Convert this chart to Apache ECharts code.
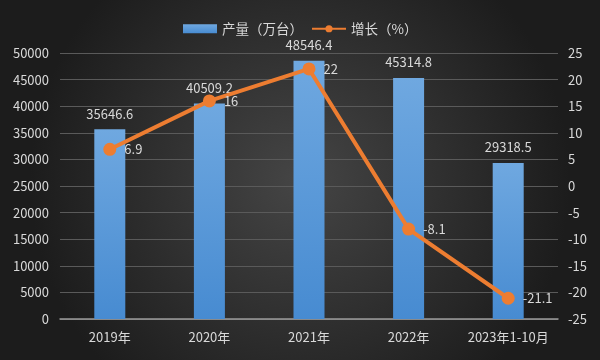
<!DOCTYPE html>
<html><head><meta charset="utf-8">
<script src="https://cdn.jsdelivr.net/npm/echarts@6/dist/echarts.min.js"></script>
<style>html,body{margin:0;padding:0;background:#2a2a2a}#c{width:600px;height:360px}</style>
</head><body><div id="c"></div>
<script>
const categories = ['2019年','2020年','2021年','2022年','2023年1-10月'];
const output = [35646.6, 40509.2, 48546.4, 45314.8, 29318.5];
const growth = [6.9, 16, 22, -8.1, -21.1];
const seriesNames = ['产量（万台）','增长（%）'];

const chart = echarts.init(document.getElementById('c'));
const txt = '#d9d9d9';
const font = '"Noto Sans CJK SC", "Noto Sans", sans-serif';
chart.setOption({
  backgroundColor: {type:'radial', x:0.5, y:0.5, r:0.75, colorStops:[{offset:0,color:'#454545'},{offset:1,color:'#1c1c1c'}]},
  textStyle:{fontFamily:font},
  animation:false,
  legend:{top:17, left:178, itemGap:8, itemWidth:34, itemHeight:9,
    textStyle:{color:txt, fontSize:13.5, fontFamily:font},
    data:[{name:seriesNames[0], icon:'rect'},{name:seriesNames[1]}]},
  grid:{left:60, right:42, top:53, bottom:41},
  xAxis:{type:'category', data:categories,
    axisLine:{lineStyle:{color:'#9a9a9a', width:1.5}}, axisTick:{show:false},
    axisLabel:{color:txt, fontSize:13, margin:12, interval:0}},
  yAxis:[
    {type:'value', min:0, max:50000, interval:5000,
      axisLabel:{color:txt, fontSize:13, margin:11, formatter:v=>String(v)},
      splitLine:{lineStyle:{color:'#5a5a5a'}}, axisLine:{show:false}, axisTick:{show:false}},
    {type:'value', min:-25, max:25, interval:5, position:'right',
      axisLabel:{color:txt, fontSize:13, margin:10},
      splitLine:{show:false}, axisLine:{show:false}, axisTick:{show:false}}
  ],
  series:[
    {name:seriesNames[0], type:'bar', data:output, barWidth:31, yAxisIndex:0,
      itemStyle:{color:{type:'linear',x:0,y:0,x2:0,y2:1,colorStops:[{offset:0,color:'#6fa8e0'},{offset:1,color:'#478bd1'}]}},
      label:{show:true, position:'top', distance:9, color:txt, fontSize:13}},
    {name:seriesNames[1], type:'line', data:growth, yAxisIndex:1,
      symbol:'circle', symbolSize:13, lineStyle:{color:'#ED7D31', width:4},
      itemStyle:{color:'#ED7D31'},
      label:{show:true, position:'right', distance:8, color:txt, fontSize:13}}
  ]
});
</script></body></html>
